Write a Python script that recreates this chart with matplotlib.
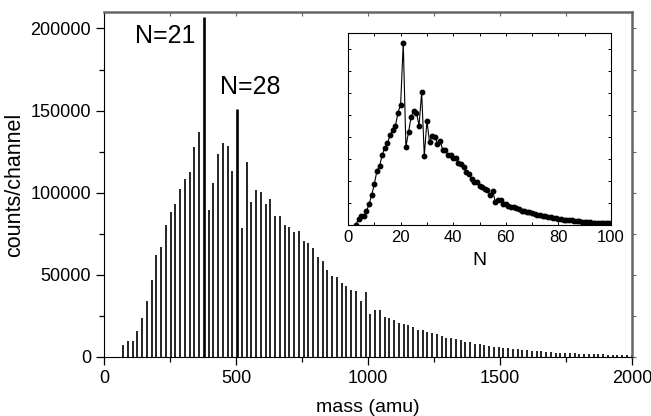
import matplotlib.pyplot as plt
import numpy as np

plt.rcParams['font.family'] = ['Liberation Sans', 'DejaVu Sans']

# cluster size N and peak heights (counts/channel)
cluster_n = np.arange(4, 112)
counts = [
    7100, 9800, 9800, 15500, 23700, 34100, 46700, 61800, 67100, 80000,
    88100, 93200, 102400, 108100, 112800, 127900, 137100, 207000, 89100, 105700,
    123400, 130200, 128100, 113200, 151000, 78500, 118700, 94500, 101600, 100600,
    92800, 95900, 85700, 85500, 80000, 79200, 76100, 76900, 70400, 69000,
    66000, 60500, 58100, 52600, 49000, 48600, 44900, 42800, 40800, 40000,
    33900, 39200, 26100, 28600, 28200, 24100, 23700, 22200, 20600, 20200,
    19200, 18400, 16500, 16300, 15100, 14500, 13700, 12600, 11600, 11200,
    10600, 10000, 9200, 8800, 8000, 7800, 7100, 6500, 5900, 5900,
    5500, 5300, 4800, 4500, 4200, 3800, 3600, 3300, 3200, 2900,
    2700, 2500, 2400, 2200, 2100, 2000, 1900, 1800, 1700, 1600,
    1500, 1400, 1300, 1250, 1200, 1100, 1050, 1000,
]
monomer_mass = 18.0
n3_count = 300  # N=3 point shown only in the inset

mass = cluster_n * monomer_mass
counts = np.array(counts)

fig = plt.figure(figsize=(6.51, 4.16), dpi=100)
ax = fig.add_axes([0.16, 0.1425, 0.811, 0.8285])

lw = np.where(counts > 140000, 1.9, 1.2)
ax.vlines(mass, 0, counts, colors='black', linewidth=lw)

ax.set_xlim(0, 2000)
ax.set_ylim(0, 210000)
ax.set_xticks(np.arange(0, 2001, 500))
ax.set_xticks(np.arange(0, 2001, 250), minor=True)
ax.set_yticks(np.arange(0, 200001, 50000))
ax.set_yticks(np.arange(0, 210001, 25000), minor=True)
ax.tick_params(which='major', direction='out', length=6, width=0.9, labelsize=13)
ax.tick_params(which='minor', direction='out', length=3.5, width=0.9)
ax.set_xlabel('mass (amu)', fontsize=14)
ax.set_ylabel('counts/channel', fontsize=15.5)
ax.xaxis.set_label_coords(0.5, -0.122)
ax.yaxis.set_label_coords(-0.15, 0.5)

for side in ['top', 'right']:
    ax.spines[side].set_color('#666666')
    ax.spines[side].set_linewidth(1.8)

# mirrored ticks on top and right
top = ax.secondary_xaxis('top')
top.set_xticks(np.arange(0, 2001, 250))
top.tick_params(direction='in', length=3, color='#666666', labeltop=False)
top.spines['top'].set_visible(False)
right = ax.secondary_yaxis('right')
right.set_yticks(np.arange(0, 210001, 25000))
right.tick_params(direction='out', length=3, color='#666666', labelright=False)
right.spines['right'].set_visible(False)

ax.text(345, 195600, 'N=21', fontsize=18, ha='right', va='center')
ax.text(440, 164400, 'N=28', fontsize=18, ha='left', va='center')

# inset: same peaks versus cluster size
ins = fig.add_axes([0.5346, 0.459, 0.404, 0.4624])
n_inset = np.concatenate([[3], cluster_n[cluster_n <= 100]])
c_inset = np.concatenate([[n3_count], counts[cluster_n <= 100]])
ins.plot(n_inset, c_inset, color='black', linewidth=0.8, marker='o',
         markersize=3.2, markerfacecolor='black', markeredgecolor='black')
ins.set_xlim(0, 100)
ins.set_ylim(0, 219000)
ins.set_xticks(np.arange(0, 101, 20))
ins.set_xticks(np.arange(0, 101, 10), minor=True)
ins.set_yticks(np.arange(0, 219000, 25000))
ins.set_yticklabels([])
ins.tick_params(which='both', direction='in', top=True, right=True,
                length=2.5, width=0.7, labelsize=12)
ins.set_xlabel('N', fontsize=14, labelpad=5)
for s in ins.spines.values():
    s.set_linewidth(0.8)

fig.savefig('out.png', dpi=100)
